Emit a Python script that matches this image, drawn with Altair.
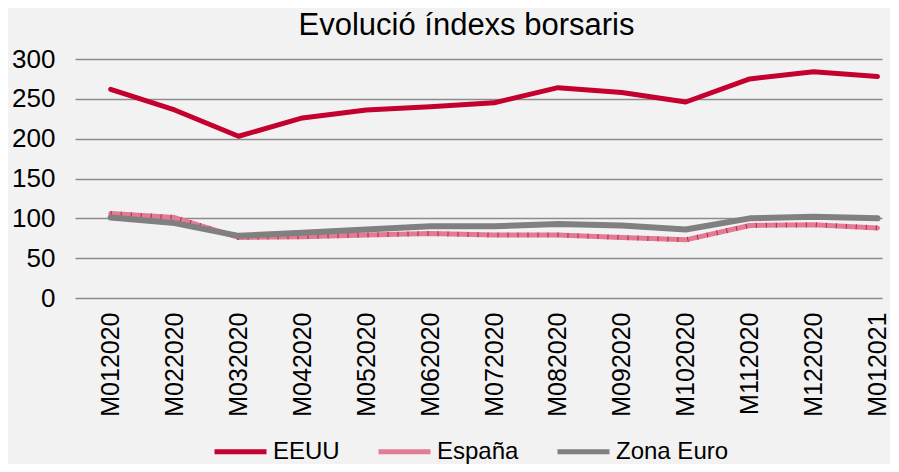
import altair as alt
import pandas as pd

months = ["M012020", "M022020", "M032020", "M042020", "M052020", "M062020", "M072020",
          "M082020", "M092020", "M102020", "M112020", "M122020", "M012021"]
eeuu = [262, 236, 203, 226, 236, 240, 245, 264, 258, 246, 275, 284, 278]
espana = [106, 101, 76, 77, 79, 81, 79, 79, 76, 73, 91, 92, 88]
zona_euro = [101, 94, 78, 82, 86, 90, 90, 93, 91, 86, 100, 102, 100]

series_names = ["EEUU", "España", "Zona Euro"]
series_colors = ["#c4002f", "#e07d93", "#808080"]

rows = []
for name, vals in zip(series_names, [eeuu, espana, zona_euro]):
    for m, v in zip(months, vals):
        rows.append({"mes": m, "serie": name, "valor": v})
df = pd.DataFrame(rows)

FONT = "Liberation Sans"

x_enc = alt.X("mes:N", sort=months, title=None,
              scale=alt.Scale(type="point", padding=0.3146, align=0.888),
              axis=alt.Axis(labelAngle=270, labelAlign="right", labelBaseline="middle",
                            labelFontSize=25, labelFont=FONT, labelColor="black",
                            labelPadding=14, ticks=False, domain=False, grid=False))
y_enc = alt.Y("valor:Q", title=None,
              scale=alt.Scale(domain=[0, 300], nice=False),
              axis=alt.Axis(values=[0, 50, 100, 150, 200, 250, 300],
                            labelFontSize=26, labelFont=FONT, labelColor="black",
                            labelPadding=20, ticks=False, domain=False,
                            grid=True, gridColor="#8c8c8c", gridWidth=1.3))
color_enc = alt.Color("serie:N", title=None,
                      scale=alt.Scale(domain=series_names, range=series_colors),
                      legend=alt.Legend(orient="none", direction="horizontal",
                                        legendX=137, legendY=364,
                                        symbolType="stroke", symbolSize=2704,
                                        symbolStrokeWidth=5, labelFontSize=24,
                                        labelFont=FONT, labelColor="black",
                                        labelOffset=4, columnPadding=28))

base = alt.Chart(df).encode(x=x_enc, y=y_enc, color=color_enc)

l_eeuu = base.transform_filter(alt.datum.serie == "EEUU").mark_line(strokeWidth=5, strokeCap="round", strokeJoin="round")
l_esp = base.transform_filter(alt.datum.serie == "España").mark_line(strokeWidth=5, strokeCap="round", strokeJoin="round")
l_esp_ticks = alt.Chart(df).transform_filter(alt.datum.serie == "España").mark_line(
    strokeWidth=5, strokeDash=[1, 9], color="#c8103f", opacity=0.9
).encode(x=x_enc, y=y_enc)
l_zona = base.transform_filter(alt.datum.serie == "Zona Euro").mark_line(strokeWidth=6, strokeCap="round", strokeJoin="round")

chart = alt.layer(l_eeuu, l_esp, l_esp_ticks, l_zona).properties(
    width=807, height=239,
    autosize=alt.AutoSizeParams(type="none"),
    padding={"left": 67, "top": 51, "right": 8, "bottom": 166},
    background="#f2f2f2",
    title=alt.TitleParams("Evolució índexs borsaris", fontSize=31, font=FONT,
                          fontWeight="normal", color="black", anchor="middle",
                          dx=-12, offset=4),
).configure_view(stroke=None)

chart.save("out.html", embed_options={"renderer": "svg", "actions": False})
